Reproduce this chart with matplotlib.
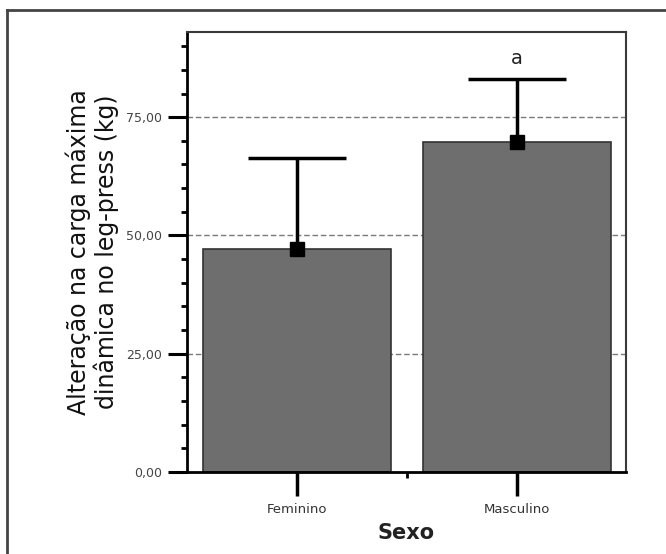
import matplotlib
matplotlib.use("Agg")
import matplotlib.pyplot as plt
from matplotlib.lines import Line2D
from matplotlib.ticker import MultipleLocator, FixedLocator

categories = ["Feminino", "Masculino"]
means = [47.1, 69.8]
upper_err = [19.2, 13.3]
sig_labels = ["", "a"]
y_ticks = [0, 25, 50, 75]
y_tick_labels = ["0,00", "25,00", "50,00", "75,00"]

fig = plt.figure(figsize=(6.66, 5.54), dpi=100)
ax = fig.add_axes([0.2803, 0.148, 0.659, 0.7942])

x = list(range(len(categories)))
for yv in y_ticks[1:]:
    ax.axhline(yv, color="#7a7a7a", lw=1.0, ls=(0, (4, 2)), zorder=0)

ax.bar(x, means, width=0.853, color="#6e6e6e", edgecolor="#333333", linewidth=1.2, zorder=2)
_, caps, _ = ax.errorbar(x, means, yerr=[[0] * len(means), upper_err], fmt="s", color="black",
                         markersize=10, elinewidth=2.5, capsize=35, capthick=2.5, zorder=3)
caps[0].set_visible(False)
for xi, m, e, lab in zip(x, means, upper_err, sig_labels):
    if lab:
        ax.text(xi, m + e + 2.3, lab, ha="center", va="bottom", fontsize=14, color="#222222")

ax.set_xlim(-0.502, 1.493)
ax.set_ylim(0, 93)

ax.yaxis.set_major_locator(FixedLocator(y_ticks))
ax.set_yticklabels(y_tick_labels)
ax.yaxis.set_minor_locator(MultipleLocator(5))
ax.tick_params(axis="y", which="major", length=14, width=2.2, labelsize=9, labelcolor="#444444", pad=4)
ax.tick_params(axis="y", which="minor", length=4, width=2)

ax.set_xticks(x)
ax.set_xticklabels(categories)
ax.xaxis.set_minor_locator(FixedLocator([0.5]))
ax.tick_params(axis="x", which="major", length=17, width=2.5, labelsize=9.5, labelcolor="#333333", pad=5)
ax.tick_params(axis="x", which="minor", length=4, width=2)

for s in ["left", "bottom"]:
    ax.spines[s].set_color("black")
    ax.spines[s].set_linewidth(2)
for s in ["top", "right"]:
    ax.spines[s].set_color("#3a3a3a")
    ax.spines[s].set_linewidth(1.5)

ax.set_ylabel("Alteração na carga máxima\ndinâmica no leg-press (kg)", fontsize=17, color="#111111",
              labelpad=5, linespacing=1.1)
ax.set_xlabel("Sexo", fontsize=15, fontweight="bold", color="#222222", labelpad=5)

# outer frame (top and left edges)
fig.add_artist(Line2D([7 / 666, 7 / 666], [0, 1 - 10 / 554], transform=fig.transFigure,
                      color="#444444", lw=2))
fig.add_artist(Line2D([7 / 666, 1], [1 - 10 / 554, 1 - 10 / 554], transform=fig.transFigure,
                      color="#444444", lw=2))

fig.savefig("out.png", dpi=100)
